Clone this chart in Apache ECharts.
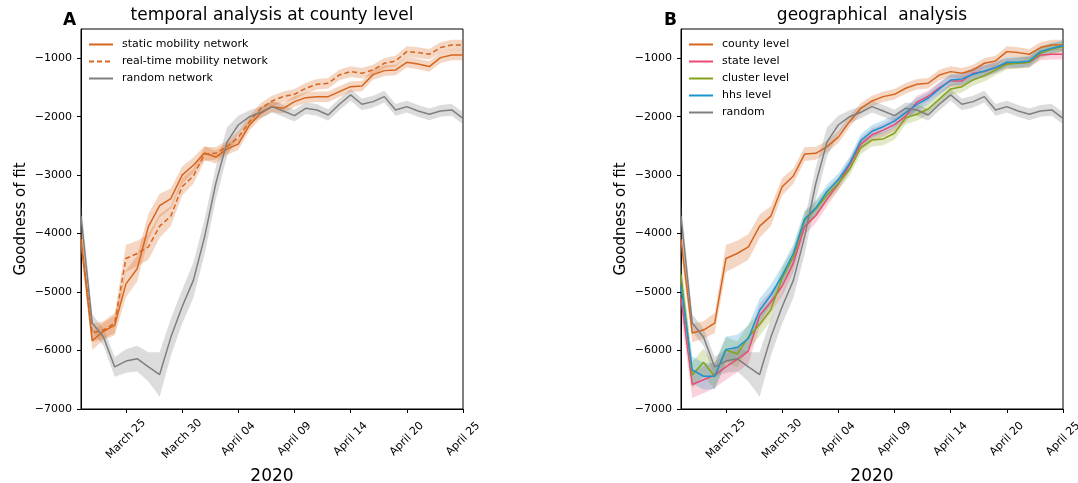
<!DOCTYPE html>
<html>
<head>
<meta charset="utf-8">
<script src="https://cdn.jsdelivr.net/npm/echarts@6/dist/echarts.min.js"></script>
<style>html,body{margin:0;padding:0;background:#fff}#c{width:1078px;height:483px}</style>
</head>
<body>
<div id="c"></div>
<script>
// ---- data ----
const categories = ['March 21','March 22','March 23','March 24','March 25','March 26','March 27','March 28','March 29','March 30','March 31',
  'April 01','April 02','April 03','April 04','April 05','April 06','April 07','April 08','April 09','April 10','April 11','April 12','April 13','April 14',
  'April 15','April 16','April 17','April 18','April 20','April 21','April 22','April 23','April 24','April 25'];
const yTicks = [-7000,-6000,-5000,-4000,-3000,-2000,-1000];

// panel A
const staticNet = [-4100,-5830,-5670,-5570,-4860,-4600,-3880,-3520,-3400,-3000,-2830,-2620,-2690,-2550,-2470,-2142,-1942,-1828,-1856,-1742,-1674,-1657,-1657,-1571,-1486,-1474,-1280,-1212,-1200,-1069,-1098,-1143,-990,-943,-943];
const staticBand = [220,160,150,170,230,220,220,200,170,150,130,120,110,100,100,95,90,90,90,90,90,90,90,90,90,90,90,90,90,90,90,90,90,90,90];
const realtimeNet = [-4100,-5700,-5650,-5530,-4425,-4340,-4226,-3872,-3700,-3198,-3015,-2639,-2627,-2513,-2350,-2085,-1856,-1731,-1657,-1617,-1514,-1445,-1428,-1286,-1229,-1257,-1200,-1086,-1046,-887,-904,-932,-818,-772,-772];
const realtimeBand = [220,160,150,170,230,220,220,200,170,150,130,120,110,100,100,95,90,90,90,90,90,90,90,90,90,90,90,90,90,90,90,90,90,90,90];
const randomNet = [-3700,-5530,-5770,-6280,-6180,-6140,-6280,-6410,-5770,-5250,-4800,-4055,-3140,-2430,-2142,-2000,-1925,-1828,-1902,-1982,-1856,-1885,-1971,-1788,-1628,-1788,-1742,-1657,-1885,-1828,-1902,-1959,-1902,-1885,-2028];
const randomBand = [260,150,150,170,200,220,250,380,320,290,300,300,280,250,160,110,100,100,100,100,100,100,100,100,100,100,100,100,100,100,100,100,100,100,100];

// panel B
const stateLevel = [-5100,-6580,-6500,-6420,-6280,-6150,-6010,-5400,-5170,-4900,-4500,-3880,-3690,-3410,-3150,-2830,-2470,-2310,-2230,-2135,-1990,-1750,-1650,-1503,-1389,-1389,-1257,-1229,-1160,-1086,-1086,-1069,-943,-932,-932];
const stateBand = [300,230,230,220,220,220,220,200,180,170,160,140,130,120,110,110,110,110,110,110,110,110,100,100,100,100,100,100,90,90,90,90,90,90,90];
const clusterLevel = [-4700,-6420,-6200,-6440,-5990,-6060,-5770,-5550,-5300,-4760,-4400,-3770,-3580,-3340,-3140,-2900,-2530,-2400,-2380,-2284,-2020,-1959,-1868,-1697,-1525,-1486,-1372,-1298,-1200,-1103,-1086,-1069,-914,-841,-801];
const clusterBand = [300,230,230,220,220,220,220,200,180,170,160,140,130,120,110,110,110,110,110,110,110,110,100,100,100,100,100,100,90,90,90,90,90,90,90];
const hhsLevel = [-4900,-6330,-6440,-6440,-5980,-5950,-5790,-5310,-5050,-4720,-4340,-3750,-3560,-3280,-3080,-2800,-2410,-2250,-2171,-2076,-1930,-1790,-1685,-1525,-1372,-1354,-1274,-1217,-1160,-1069,-1069,-1046,-887,-829,-784];
const hhsBand = [300,230,230,220,220,220,220,200,180,170,160,140,130,120,110,110,110,110,110,110,110,110,100,100,100,100,100,100,90,90,90,90,90,90,90];

// ---- styles ----
const FONT = 'DejaVu Sans';
const C_OR = '#d6661f', C_GR = '#7f7f7f', C_PK = '#ec4a73', C_GN = '#84a21c', C_BL = '#1a95cf';
const F_OR = 'rgba(217,102,31,0.27)', F_GR = 'rgba(128,128,128,0.28)', F_PK = 'rgba(236,74,115,0.25)', F_GN = 'rgba(132,162,28,0.25)', F_BL = 'rgba(26,149,207,0.25)';

function band(ax, mean, half, fill) {
  return {
    type: 'custom', xAxisIndex: ax, yAxisIndex: ax, silent: true, z: 1,
    data: mean.map((m, i) => [i, m - half[i], m + half[i]]),
    encode: { x: 0, y: 1 },
    renderItem: function (params, api) {
      if (params.dataIndex !== 0) return;
      const pts = [];
      for (let i = 0; i < mean.length; i++) pts.push(api.coord([i, mean[i] + half[i]]));
      for (let i = mean.length - 1; i >= 0; i--) pts.push(api.coord([i, mean[i] - half[i]]));
      return { type: 'polygon', shape: { points: pts }, style: { fill: fill } };
    }
  };
}
function line(ax, name, data, color, dash) {
  return {
    type: 'line', name: name, xAxisIndex: ax, yAxisIndex: ax, data: data,
    symbol: 'none', showSymbol: false, z: 3,
    lineStyle: { color: color, width: 1.5, type: dash ? [5, 3] : 'solid' },
    itemStyle: { color: color }
  };
}
const tickFn = (i) => i % 5 === 4;
function xAxis(gi) {
  return {
    type: 'category', gridIndex: gi, data: categories, boundaryGap: false,
    name: '2020', nameLocation: 'middle', nameGap: 54,
    nameTextStyle: { fontSize: 17, color: '#000', fontFamily: FONT },
    axisLine: { lineStyle: { color: '#000', width: 1 } },
    axisTick: { interval: tickFn, length: 4, lineStyle: { color: '#000' } },
    axisLabel: { interval: tickFn, rotate: 45, align: 'center', verticalAlign: 'middle', margin: 30, fontSize: 11, color: '#000', fontFamily: FONT },
    splitLine: { show: false }
  };
}
function yAxis(gi) {
  return {
    type: 'value', gridIndex: gi, min: -7000, max: -500, interval: 1000,
    name: 'Goodness of fit', nameLocation: 'middle', nameGap: 52, nameRotate: 90,
    nameTextStyle: { fontSize: 15, color: '#000', fontFamily: FONT },
    axisLine: { show: true, lineStyle: { color: '#000', width: 1 } },
    axisTick: { show: true, length: 4, lineStyle: { color: '#000' }, customValues: yTicks },
    axisLabel: { margin: 9, fontSize: 11, color: '#000', fontFamily: FONT, customValues: yTicks,
      formatter: (v) => String(v).replace('-', '\u2212') },
    splitLine: { show: false }
  };
}
function txt(x, y, s, size, bold) {
  return { type: 'text', x: x, y: y, z: 10,
    style: { text: s, fill: '#000', fontSize: size, fontWeight: bold ? 'bold' : 'normal', fontFamily: FONT, textAlign: bold ? 'left' : 'center', textVerticalAlign: 'top' } };
}
function legend(names, left) {
  return {
    data: names, left: left, top: 34,
    orient: 'vertical', itemWidth: 24, itemHeight: 10, itemGap: 6, selectedMode: false,
    itemStyle: { opacity: 0 },
    textStyle: { fontSize: 11, color: '#000', fontFamily: FONT, padding: [0, 0, 0, 4] }
  };
}
function grid(left) {
  return { left: left, top: 29, width: 382, height: 380, show: true, borderColor: '#000', borderWidth: 1,
    backgroundColor: 'transparent', containLabel: false, outerBoundsMode: 'none' };
}

const chart = echarts.init(document.getElementById('c'), null, { renderer: 'canvas' });
chart.setOption({
  animation: false,
  textStyle: { fontFamily: FONT },
  grid: [grid(81), grid(681)],
  xAxis: [xAxis(0), xAxis(1)],
  yAxis: [yAxis(0), yAxis(1)],
  graphic: [
    txt(272, 7, 'temporal analysis at county level', 17, false),
    txt(872, 7, 'geographical  analysis', 17, false),
    txt(63, 12, 'A', 17, true),
    txt(664, 12, 'B', 17, true)
  ],
  legend: [
    legend(['static mobility network', 'real-time mobility network', 'random network'], 83),
    legend(['county level', 'state level', 'cluster level', 'hhs level', 'random'], 683)
  ],
  series: [
    band(0, randomNet, randomBand, F_GR),
    band(0, staticNet, staticBand, F_OR),
    band(0, realtimeNet, realtimeBand, F_OR),
    line(0, 'static mobility network', staticNet, C_OR, false),
    line(0, 'real-time mobility network', realtimeNet, C_OR, true),
    line(0, 'random network', randomNet, C_GR, false),

    band(1, realtimeNet, realtimeBand, F_OR),
    band(1, stateLevel, stateBand, F_PK),
    band(1, clusterLevel, clusterBand, F_GN),
    band(1, hhsLevel, hhsBand, F_BL),
    band(1, randomNet, randomBand, F_GR),
    line(1, 'county level', realtimeNet, C_OR, false),
    line(1, 'state level', stateLevel, C_PK, false),
    line(1, 'cluster level', clusterLevel, C_GN, false),
    line(1, 'hhs level', hhsLevel, C_BL, false),
    line(1, 'random', randomNet, C_GR, false)
  ]
});
</script>
</body>
</html>
